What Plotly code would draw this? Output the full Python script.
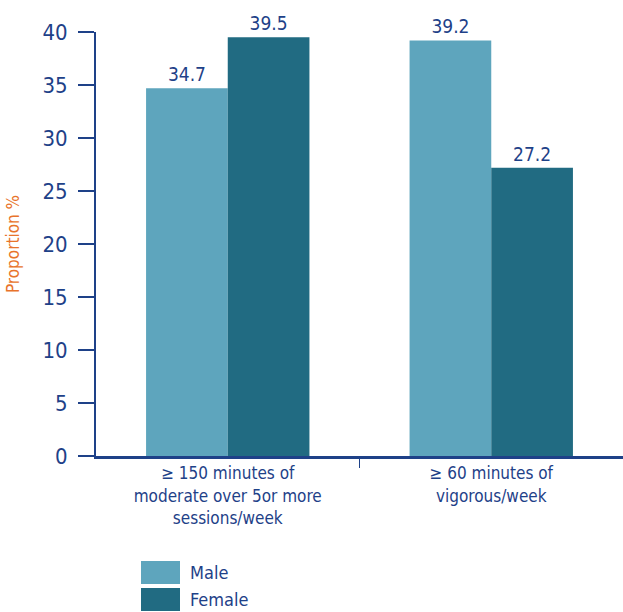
import plotly.graph_objects as go

categories = ["≥ 150 minutes of<br>moderate over 5or more<br>sessions/week",
              "≥ 60 minutes of<br>vigorous/week"]
series_names = ["Male", "Female"]
male_values = [34.7, 39.2]
female_values = [39.5, 27.2]
y_ticks = [0, 5, 10, 15, 20, 25, 30, 35, 40]

colors = {"Male": "#5ea5bd", "Female": "#216b82"}
blue = "#1e4188"
font_family = "Liberation Sans Narrow, DejaVu Sans Condensed, Roboto, sans-serif"

fig = go.Figure()
for name, vals in zip(series_names, [male_values, female_values]):
    fig.add_trace(go.Bar(
        x=categories, y=vals, name=name,
        marker=dict(color=colors[name], line=dict(width=0)),
        text=[f"{v:.1f}" for v in vals], textposition="outside",
        textfont=dict(size=19, color=blue, family=font_family),
        cliponaxis=False, showlegend=False,
    ))

fig.update_layout(
    width=623, height=612,
    margin=dict(l=96, r=0, t=32, b=156),
    barmode="group", bargap=0.38, bargroupgap=0,
    plot_bgcolor="white", paper_bgcolor="white",
    font=dict(family=font_family, color=blue),
    yaxis=dict(range=[0, 40], tickvals=y_ticks, showgrid=False, zeroline=False,
               showline=True, linecolor=blue, linewidth=2,
               ticks="outside", ticklen=16, tickcolor=blue, tickwidth=1.5,
               ticklabelstandoff=6,
               tickfont=dict(size=22, color=blue),
               title=dict(text="Proportion %", font=dict(size=17, color="#e8732b"), standoff=18)),
    xaxis=dict(showgrid=False, showline=True, linecolor=blue, linewidth=3,
               ticks="", tickfont=dict(size=17, color=blue)),
)

# separator tick between the two categories
fig.add_shape(type="line", xref="x", yref="paper", x0=0.5, x1=0.5,
              y0=0, y1=-12 / 424, line=dict(color=blue, width=1))

# Custom legend with large swatches
for i, name in enumerate(series_names):
    top_px = 561 + i * 27
    bot_px = top_px + 23
    y0 = (456 - bot_px) / 424
    y1 = (456 - top_px) / 424
    fig.add_shape(type="rect", xref="paper", yref="paper",
                  x0=(141 - 96) / 527, x1=(180 - 96) / 527, y0=y0, y1=y1,
                  line=dict(width=0), fillcolor=colors[name])
    fig.add_annotation(xref="paper", yref="paper", x=(188 - 96) / 527, y=(y0 + y1) / 2,
                       text=name, showarrow=False, xanchor="left", yanchor="middle",
                       font=dict(size=18, color=blue))

fig.write_html("out.html")
